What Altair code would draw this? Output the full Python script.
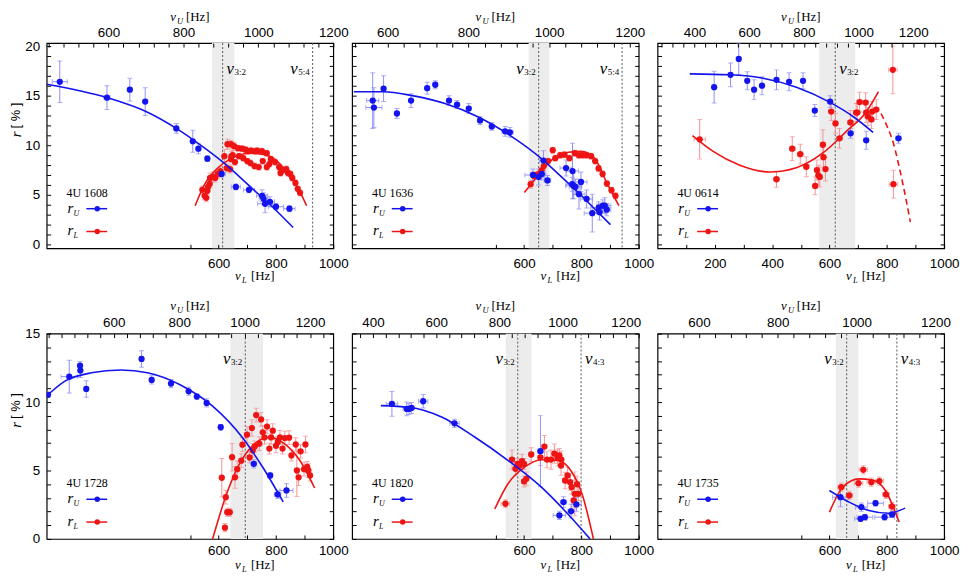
import altair as alt
import pandas as pd

W, H = 289, 207
BLUE, RED = "#1414ee", "#ee1414"
BLUE_ERR, RED_ERR = "#8f8ff5", "#f59191"
BAND = "#ececec"
SERIF, SANS = "Liberation Serif", "Liberation Sans"
ONE = pd.DataFrame({"k": [0]})

# ---------------------------------------------------------
# DATA
# ---------------------------------------------------------
# 4U 1608
s1608_u_nu = [470, 596, 657, 698, 781, 825, 840, 864, 902, 940, 975, 1010, 1014, 1018, 1031, 1047, 1083]
s1608_u_r = [16.4, 14.8, 15.6, 14.4, 11.7, 10.4, 9.65, 8.65, 7.1, 5.8, 5.5, 4.9, 4.6, 4.1, 4.3, 3.8, 3.6]
s1608_u_err = [2.1, 1.2, 1.15, 1.4, 0.5, 1.1, 0.5, 0.3, 0.3, 0.3, 0.3, 0.6, 0.6, 0.9, 0.5, 0.3, 0.3]
s1608_u_nuerr = [20, 8, 5, 5, 6, 5, 6, 6, 10, 12, 15, 15, 12, 20, 12, 20, 15]
s1608_l_nu = [543, 551, 557, 561, 563, 569, 570, 580, 588, 597, 606, 620, 628, 640, 645, 649, 631, 643, 654, 668,
              682, 694, 702, 713, 728, 734, 751, 768, 643, 657, 671, 686, 700, 711, 725, 740, 754, 768, 777, 782,
              797, 811, 816, 825, 836, 842, 850, 857, 868, 876, 884]
s1608_l_r = [5.5, 4.9, 4.7, 5.4, 5.8, 6.1, 6.7, 6.8, 6.7, 7.1, 7.4, 8.9, 7.7, 7.6, 8.9, 9.0, 10.1, 10.1, 9.9, 9.7,
             9.65, 9.55, 9.4, 9.45, 9.4, 9.45, 9.4, 9.2, 8.6, 8.3, 8.9, 8.7, 8.4, 8.2, 7.9, 7.8, 8.4, 7.8, 8.1, 8.6,
             8.3, 7.8, 7.2, 7.5, 7.6, 7.2, 7.1, 6.7, 6.2, 5.6, 5.2]
s1608_l_err = [0.4, 0.4, 0.4, 0.4, 0.4, 0.4, 0.5, 0.5, 0.4, 0.4, 0.4, 0.7, 0.4, 0.4, 0.5, 0.5, 0.5, 0.4, 0.4, 0.3,
               0.3, 0.3, 0.3, 0.3, 0.3, 0.3, 0.3, 0.3, 0.3, 0.3, 0.3, 0.3, 0.3, 0.3, 0.3, 0.3, 0.3, 0.3, 0.3, 0.3,
               0.3, 0.3, 0.3, 0.3, 0.3, 0.3, 0.3, 0.3, 0.3, 0.3, 0.3]
s1608_ufit_nu = [435, 596, 700, 781, 857, 918, 979, 1040, 1093]
s1608_ufit_r = [16.15, 14.8, 13.4, 11.7, 9.7, 7.9, 5.8, 3.7, 1.7]
s1608_lfit_nu = [518, 552, 597, 643, 711, 779, 836, 882, 907]
s1608_lfit_r = [3.9, 6.1, 7.7, 8.65, 9.2, 8.9, 7.4, 5.4, 3.9]

# 4U 1636
s1636_u_nu = [563, 566, 590, 623, 658, 698, 718, 752, 772, 801, 829, 858, 891, 903, 960, 974, 982, 986, 996, 1042,
              1058, 1057, 1061, 1065, 1079, 1074, 1093, 1107, 1123, 1125, 1133, 1138, 1143]
s1636_u_r = [14.5, 13.8, 15.7, 13.2, 14.5, 15.75, 16.1, 14.5, 14.1, 13.7, 12.5, 11.9, 11.4, 11.3, 7.0, 6.8, 7.1, 8.45,
             6.45, 7.7, 7.4, 6.07, 5.9, 5.8, 6.3, 5.07, 4.58, 3.15, 3.7, 3.25, 3.9, 3.9, 3.5]
s1636_u_err = [2.8, 2.0, 1.3, 0.5, 0.7, 0.6, 0.4, 0.5, 0.4, 0.5, 0.4, 0.4, 0.5, 0.5, 0.6, 0.8, 0.6, 1.0, 0.5, 0.8,
               2.8, 0.7, 1.3, 0.8, 1.0, 1.5, 0.9, 1.9, 0.6, 0.8, 0.6, 0.8, 0.6]
s1636_u_nuerr = [15, 20, 5, 5, 5, 5, 5, 5, 5, 5, 5, 5, 8, 8, 20, 15, 10, 10, 8, 15,
                 15, 15, 20, 15, 15, 15, 15, 20, 20, 15, 15, 15, 10]
s1636_l_nu = [623, 635, 643, 652, 661, 669, 684, 700, 709, 726, 741, 758, 777, 791, 803, 817, 834, 848, 860, 874,
              889, 905, 919]
s1636_l_r = [6.07, 6.9, 7.0, 7.1, 7.46, 7.9, 8.4, 9.5, 8.7, 9.0, 9.05, 8.7, 9.2, 9.0, 9.0, 9.0, 8.9, 8.4, 7.66, 7.1,
             6.14, 5.47, 4.9]
s1636_l_err = [0.4, 0.3, 0.3, 0.3, 0.3, 0.3, 0.3, 0.3, 0.3, 0.3, 0.3, 0.3, 0.3, 0.3, 0.3, 0.3, 0.3, 0.3, 0.3, 0.3,
               0.3, 0.3, 0.3]
s1636_ufit_nu = [516, 589, 661, 742, 822, 903, 984, 1024, 1072, 1121, 1152]
s1636_ufit_r = [15.4, 15.4, 15.0, 14.2, 12.9, 11.0, 8.55, 7.06, 5.24, 3.25, 2.0]
s1636_lfit_nu = [601, 652, 698, 755, 800, 845, 891, 931]
s1636_lfit_r = [5.24, 7.06, 8.55, 9.3, 9.38, 8.72, 6.07, 3.9]

# 4U 0614
s0614_u_nu = [472, 532, 562, 593, 618, 647, 700, 746, 797, 840, 896, 971, 1028, 1146]
s0614_u_r = [15.85, 17.1, 18.7, 16.5, 15.6, 16.0, 16.6, 16.4, 16.5, 13.5, 14.4, 11.2, 10.5, 10.7]
s0614_u_err = [1.6, 1.2, 1.6, 0.9, 1.0, 0.9, 1.0, 0.9, 0.8, 0.6, 0.6, 0.5, 0.9, 0.5]
s0614_u_nuerr = [5, 5, 5, 5, 5, 5, 5, 5, 5, 8, 8, 8, 8, 10]
s0614_l_nu = [147, 415, 470, 498, 519, 556, 561, 566, 550, 577, 579, 586, 606, 621, 635, 673, 693, 697, 705, 726,
              728, 734, 746, 749, 763, 821, 823]
s0614_l_r = [10.6, 6.57, 9.65, 9.1, 7.83, 7.5, 6.97, 6.8, 5.9, 10.05, 8.8, 7.6, 13.4, 12.2, 10.7, 12.3, 13.3, 13.3,
             14.35, 14.3, 13.3, 12.9, 12.6, 13.4, 13.6, 17.6, 6.07]
s0614_l_err = [2.0, 0.8, 1.2, 1.0, 1.0, 1.0, 1.0, 1.0, 0.9, 1.5, 1.4, 1.2, 0.9, 1.0, 1.0, 1.2, 0.9, 0.9, 1.0, 1.0,
               1.0, 0.9, 0.9, 1.0, 1.0, 2.4, 1.4]
s0614_l_nuerr = [20, 10, 10, 10, 10, 8, 8, 8, 8, 8, 8, 8, 8, 8, 10, 10, 10, 10, 10, 10,
                 10, 10, 10, 10, 10, 15, 15]
s0614_ufit_nu = [383, 529, 651, 773, 894, 980, 1053]
s0614_ufit_r = [17.2, 17.1, 16.75, 15.85, 14.35, 12.9, 11.3]
s0614_lfit_nu = [122, 194, 287, 391, 484, 577, 658, 728, 771]
s0614_lfit_r = [10.97, 9.38, 7.99, 7.3, 7.73, 9.22, 11.37, 13.36, 15.4]
s0614_ldash_nu = [780, 804, 821, 844, 868, 882]
s0614_ldash_r = [13.2, 11.7, 10.4, 7.7, 4.4, 2.26]

# 4U 1728
s1728_u_nu = [399, 464, 497, 498, 516, 685, 716, 775, 829, 854, 884, 927, 1028, 1078, 1101, 1128]
s1728_u_r = [10.53, 11.86, 12.66, 12.3, 10.96, 13.15, 11.62, 11.35, 10.79, 10.4, 9.94, 8.16, 5.49, 4.64, 3.25, 3.54]
s1728_u_err = [0.2, 1.2, 0.3, 0.5, 0.6, 0.6, 0.3, 0.3, 0.3, 0.2, 0.3, 0.2, 0.3, 0.2, 0.3, 0.5]
s1728_u_nuerr = [4, 25, 5, 5, 5, 6, 5, 5, 5, 5, 5, 5, 8, 8, 10, 20]
s1728_l_nu = [611, 625, 622, 630, 639, 647, 657, 665, 679, 683, 699, 708, 716, 719, 726, 731, 742, 748, 754, 760,
              769, 777, 783, 789, 806, 800, 814, 823, 831, 846, 854, 869, 873, 879, 886, 898, 903, 909, 913, 919]
s1728_l_r = [4.47, 3.05, 0.82, 1.95, 1.95, 5.97, 4.5, 5.1, 5.72, 6.89, 7.62, 5.95, 8.1, 6.47, 6.75, 9.05, 6.96, 8.73,
             7.79, 7.42, 8.21, 6.6, 7.42, 7.91, 7.07, 6.8, 7.42, 6.6, 7.37, 7.4, 6.1, 6.9, 5.0, 4.5, 6.4, 5.1, 6.9,
             5.26, 5.0, 4.64]
s1728_l_err = [1.4, 0.5, 0.3, 0.3, 0.3, 1.0, 0.8, 0.6, 0.5, 0.5, 0.6, 0.4, 0.6, 0.5, 0.4, 0.5, 0.5, 0.5, 0.5, 0.5,
               0.5, 0.4, 0.5, 0.5, 0.4, 0.5, 0.5, 0.4, 0.5, 0.5, 0.4, 0.5, 1.9, 0.6, 0.5, 0.5, 0.6, 0.4, 0.5, 0.4]
s1728_ufit_nu = [394, 451, 532, 622, 703, 804, 904, 995, 1054, 1118]
s1728_ufit_r = [10.43, 11.53, 12.14, 12.34, 12.14, 11.25, 9.67, 7.36, 5.29, 2.7]
s1728_lfit_nu = [579, 628, 673, 719, 777, 823, 880, 935]
s1728_lfit_r = [0.0, 3.3, 5.49, 6.82, 7.42, 7.06, 5.84, 3.72]

# 4U 1820
s1820_u_nu = [460, 507, 514, 522, 559, 658, 930, 1003, 990, 1027, 1044]
s1820_u_r = [9.87, 9.5, 9.5, 9.57, 10.06, 8.45, 6.41, 2.69, 1.72, 2.03, 2.52]
s1820_u_err = [0.9, 0.5, 0.4, 0.4, 0.5, 0.3, 2.6, 0.4, 0.3, 0.5, 0.5]
s1820_u_nuerr = [18, 12, 8, 8, 15, 15, 8, 10, 20, 10, 15]
s1820_l_nu = [535, 558, 570, 577, 585, 593, 600, 608, 600, 625, 657, 671, 680, 694, 706, 717, 729, 723, 730, 743,
              752, 761, 766, 773, 777, 785, 789]
s1820_l_r = [2.57, 5.8, 5.12, 5.48, 5.36, 5.68, 5.48, 4.39, 4.2, 6.17, 5.96, 6.75, 5.8, 5.8, 6.23, 5.92, 5.36, 6.1,
             5.8, 4.27, 4.64, 4.15, 3.78, 2.81, 3.3, 4.0, 3.3]
s1820_l_err = [0.3, 0.7, 0.5, 0.4, 0.4, 0.5, 0.4, 0.5, 0.4, 0.5, 0.6, 0.8, 0.6, 0.7, 0.7, 0.6, 0.7, 0.5, 0.6, 0.6,
               0.6, 0.6, 0.5, 0.5, 1.6, 0.6, 0.5]
s1820_l_nuerr = [15, 8, 8, 8, 8, 8, 8, 8, 8, 8, 8, 8, 8, 8, 8, 8, 8, 8, 8, 8,
                 8, 8, 8, 8, 8, 8, 8]
s1820_ufit_nu = [425, 514, 619, 723, 828, 933, 1016, 1087]
s1820_ufit_r = [9.74, 9.62, 8.89, 7.43, 5.73, 3.78, 1.84, 0.0]
s1820_lfit_nu = [498, 544, 602, 660, 717, 763, 804, 842]
s1820_lfit_r = [2.2, 4.03, 5.24, 5.78, 5.73, 5.0, 3.18, 0.0]

# 4U 1735
s1735_u_nu = [959, 1012, 1010, 1021, 1048, 1071, 1090]
s1735_u_r = [3.05, 2.32, 1.47, 1.59, 2.61, 1.59, 1.79]
s1735_u_err = [0.7, 0.3, 0.2, 0.2, 0.2, 0.2, 0.2]
s1735_u_nuerr = [20, 15, 15, 20, 20, 25, 15]
s1735_l_nu = [641, 669, 701, 718, 746, 774, 797, 818]
s1735_l_r = [3.78, 3.18, 4.07, 5.05, 4.15, 4.23, 3.25, 2.37]
s1735_l_err = [0.3, 0.3, 0.3, 0.3, 0.3, 0.3, 0.3, 0.3]
s1735_l_nuerr = [12, 12, 15, 15, 15, 15, 12, 12]
s1735_ufit_nu = [931, 981, 1031, 1081, 1123]
s1735_ufit_r = [3.54, 2.69, 2.08, 1.88, 2.25]
s1735_lfit_nu = [600, 646, 703, 749, 795, 843]
s1735_lfit_r = [1.96, 3.78, 4.39, 4.3, 3.54, 1.23]

PANELS = [
    dict(name="4U 1608", row=0, udom=[435, 1200], umin=600, band=[577, 655],
         lines=[(614, "3:2", "right"), (928, "5:4", "left")],
         u=(s1608_u_nu, s1608_u_r, s1608_u_err, s1608_u_nuerr), l=(s1608_l_nu, s1608_l_r, s1608_l_err, None),
         ufit=(s1608_ufit_nu, s1608_ufit_r), lfit=(s1608_lfit_nu, s1608_lfit_r)),
    dict(name="4U 1636", row=0, udom=[512, 1222], umin=600, band=[616, 688],
         lines=[(651, "3:2", "left"), (942, "5:4", "left")],
         u=(s1636_u_nu, s1636_u_r, s1636_u_err, s1636_u_nuerr), l=(s1636_l_nu, s1636_l_r, s1636_l_err, None),
         ufit=(s1636_ufit_nu, s1636_ufit_r), lfit=(s1636_lfit_nu, s1636_lfit_r)),
    dict(name="4U 0614", row=0, udom=[265, 1313], umin=400, band=[564, 690],
         lines=[(620, "3:2", "right")],
         u=(s0614_u_nu, s0614_u_r, s0614_u_err, s0614_u_nuerr), l=(s0614_l_nu, s0614_l_r, s0614_l_err, s0614_l_nuerr),
         ufit=(s0614_ufit_nu, s0614_ufit_r), lfit=(s0614_lfit_nu, s0614_lfit_r),
         ldash=(s0614_ldash_nu, s0614_ldash_r)),
    dict(name="4U 1728", row=1, udom=[395, 1271], umin=600, band=[641, 755],
         lines=[(693, "3:2", "left")],
         u=(s1728_u_nu, s1728_u_r, s1728_u_err, s1728_u_nuerr), l=(s1728_l_nu, s1728_l_r, s1728_l_err, None),
         ufit=(s1728_ufit_nu, s1728_ufit_r), lfit=(s1728_lfit_nu, s1728_lfit_r)),
    dict(name="4U 1820", row=1, udom=[334, 1241], umin=400, band=[536, 626],
         lines=[(578, "3:2", "left"), (799, "4:3", "right")],
         u=(s1820_u_nu, s1820_u_r, s1820_u_err, s1820_u_nuerr), l=(s1820_l_nu, s1820_l_r, s1820_l_err, s1820_l_nuerr),
         ufit=(s1820_ufit_nu, s1820_ufit_r), lfit=(s1820_lfit_nu, s1820_lfit_r)),
    dict(name="4U 1735", row=1, udom=[495, 1222], umin=600, band=[622, 701],
         lines=[(660, "3:2", "left"), (835, "4:3", "right")],
         u=(s1735_u_nu, s1735_u_r, s1735_u_err, s1735_u_nuerr), l=(s1735_l_nu, s1735_l_r, s1735_l_err, s1735_l_nuerr),
         ufit=(s1735_ufit_nu, s1735_ufit_r), lfit=(s1735_lfit_nu, s1735_lfit_r)),
]


# ---------------------------------------------------------
# HELPERS
# ---------------------------------------------------------
def make_axis(orient, values, labels=True, expr="", pad=6):
    kw = dict(orient=orient, values=values, labels=labels, tickSize=4, offset=-4, tickColor="black",
              tickWidth=1, domain=False, grid=False, title=None, zindex=1)
    if labels:
        kw.update(labelExpr=expr, labelPadding=pad, labelFont=SANS, labelFontSize=13.5, labelColor="black",
                  labelFlush=False, labelOverlap=False, format="d")
    return alt.Axis(**kw)


def vtext(txt, x, y, size, style="normal", font=SERIF, align="left", angle=0, baseline="alphabetic"):
    mk = dict(text=txt, font=font, fontSize=size, fontStyle=style, align=align, baseline=baseline, color="black")
    if angle:
        mk["angle"] = angle
    return alt.Chart(ONE).mark_text(**mk).encode(x=alt.value(x), y=alt.value(y))


def nu_title(sub, cx, y):
    return [vtext("ν", cx - 20, y, 13, "italic"),
            vtext(sub, cx - 13, y + 3, 8.5, "italic"),
            vtext("[Hz]", cx - 4, y, 13)]


def series(vals, xs, ys, color, ecolor, xaxis, yaxis):
    nu, r, err, nuerr = vals
    df = pd.DataFrame({"nu": nu, "r": r, "err": err})
    df["lo"] = df["r"] - df["err"]
    df["hi"] = df["r"] + df["err"]

    def X(f, axis=None):
        return alt.X(f, type="quantitative", scale=xs, axis=axis)

    def Y(f, axis=None):
        return alt.Y(f, type="quantitative", scale=ys, axis=axis)

    errs = [alt.Chart(df).mark_rule(color=ecolor, strokeWidth=1, clip=True)
            .encode(x=X("nu"), y=Y("lo"), y2=alt.Y2("hi"))]
    ycaps = pd.concat([pd.DataFrame({"nu": df["nu"], "v": df["lo"]}),
                       pd.DataFrame({"nu": df["nu"], "v": df["hi"]})])
    errs.append(alt.Chart(ycaps).mark_tick(orient="horizontal", size=5, thickness=1, color=ecolor, clip=True)
                .encode(x=X("nu"), y=Y("v")))
    if nuerr is not None:
        df["nlo"] = df["nu"] - pd.Series(nuerr)
        df["nhi"] = df["nu"] + pd.Series(nuerr)
        errs.append(alt.Chart(df).mark_rule(color=ecolor, strokeWidth=1, clip=True)
                    .encode(x=X("nlo"), x2=alt.X2("nhi"), y=Y("r")))
        xcaps = pd.concat([pd.DataFrame({"v": df["nlo"], "r": df["r"]}),
                           pd.DataFrame({"v": df["nhi"], "r": df["r"]})])
        errs.append(alt.Chart(xcaps).mark_tick(orient="vertical", size=5, thickness=1, color=ecolor, clip=True)
                    .encode(x=X("v"), y=Y("r")))
    pts = (alt.Chart(df).mark_circle(size=40, color=color, opacity=1, clip=True)
           .encode(x=X("nu", xaxis), y=Y("r", yaxis)))
    return errs, pts


def fit_line(nu, r, xs, ys, color, dash=None):
    df = pd.DataFrame({"nu": nu, "r": r})
    mk = dict(color=color, strokeWidth=1.6, interpolate="monotone", clip=True)
    if dash:
        mk["strokeDash"] = dash
    return alt.Chart(df).mark_line(**mk).encode(
        x=alt.X("nu", type="quantitative", scale=xs, axis=None),
        y=alt.Y("r", type="quantitative", scale=ys, axis=None))


def line_labels(nu, sub, side, xs):
    d = pd.DataFrame({"nu": [nu]})
    x = alt.X("nu", type="quantitative", scale=xs, axis=None)
    if side == "right":
        a, b = dict(align="left", dx=4), dict(align="left", dx=12)
    else:
        a, b = dict(align="right", dx=-15), dict(align="right", dx=-3)
    return [alt.Chart(d).mark_text(text="ν", font=SERIF, fontSize=17, fontStyle="italic", color="black", **a)
            .encode(x=x, y=alt.value(26)),
            alt.Chart(d).mark_text(text=sub, font=SERIF, fontSize=9, color="black", **b)
            .encode(x=x, y=alt.value(29))]


def legend(name):
    out = [vtext(name, 20, 155, 12)]
    for sub, yy, color in (("U", 167, BLUE), ("L", 190, RED)):
        out.append(vtext("r", 21, yy + 4, 15, "italic"))
        out.append(vtext(sub, 27, yy + 7, 8, "italic"))
        out.append(alt.Chart(ONE).mark_rule(color=color, strokeWidth=1.5)
                   .encode(x=alt.value(40), x2=alt.value(61), y=alt.value(yy)))
        out.append(alt.Chart(ONE).mark_circle(color=color, size=30, opacity=1)
                   .encode(x=alt.value(51), y=alt.value(yy)))
    return out


# ---------------------------------------------------------
# PANEL
# ---------------------------------------------------------
def panel(p, col):
    row = p["row"]
    ydom = [-0.4, 20.3] if row == 0 else [0, 15]
    yvals = list(range(0, 21)) if row == 0 else list(range(0, 16))
    xs_l = alt.Scale(domain=[0, 1000], nice=False, zero=False)
    xs_u = alt.Scale(domain=p["udom"], nice=False, zero=False)
    ys = alt.Scale(domain=ydom, nice=False, zero=False)

    lvals = list(range(100, 1001, 100)) if p["umin"] == 400 and row == 0 else [500, 600, 700, 800, 900, 1000]
    uvals = [v for v in range(200, 1400, 40) if p["udom"][0] <= v <= p["udom"][1]]
    bot_pad, top_pad = (8, 4) if row == 0 else (5, 4)

    top_expr = "datum.value % 200 === 0 && datum.value >= " + str(p["umin"]) + " ? datum.label : ''"
    ax_bottom = make_axis("bottom", lvals, True, "datum.value % 200 === 0 ? datum.label : ''", bot_pad)
    ax_top = make_axis("top", uvals, True, top_expr, top_pad)
    ax_left = make_axis("left", yvals, col == 0, "datum.value % 5 === 0 ? datum.label : ''", 7)
    ax_right = make_axis("right", yvals, False)

    band = pd.DataFrame({"a": [p["band"][0]], "b": [p["band"][1]]})
    layers = [alt.Chart(band).mark_rect(color=BAND).encode(
        x=alt.X("a", type="quantitative", scale=xs_l, axis=None), x2=alt.X2("b"),
        y=alt.value(0), y2=alt.value(H))]
    lines = pd.DataFrame({"nu": [ln[0] for ln in p["lines"]]})
    layers.append(alt.Chart(lines).mark_rule(color="#555555", strokeWidth=1, strokeDash=[2, 2]).encode(
        x=alt.X("nu", type="quantitative", scale=xs_l, axis=None), y=alt.value(0), y2=alt.value(H)))
    for nu, sub, side in p["lines"]:
        layers += line_labels(nu, sub, side, xs_l)

    l_errs, l_pts = series(p["l"], xs_l, ys, RED, RED_ERR, ax_bottom, ax_left)
    u_errs, u_pts = series(p["u"], xs_u, ys, BLUE, BLUE_ERR, ax_top, ax_right)
    layers += l_errs + u_errs
    layers.append(fit_line(*p["lfit"], xs_l, ys, RED))
    if "ldash" in p:
        layers.append(fit_line(*p["ldash"], xs_l, ys, RED, dash=[6, 4]))
    layers.append(l_pts)
    layers.append(fit_line(*p["ufit"], xs_u, ys, BLUE))
    layers.append(u_pts)

    layers += legend(p["name"])
    layers += nu_title("U", W / 2, -22 if row == 0 else -24)
    layers += nu_title("L", 210, H + (32 if row == 0 else 30))
    if col == 0:
        layers.append(vtext("r", -31, 95, 15, "italic", angle=270, baseline="middle"))
        layers.append(vtext("[ % ]", -31, 86, 13, font=SANS, angle=270, baseline="middle"))

    return (alt.layer(*layers)
            .resolve_scale(x="independent", y="independent")
            .properties(width=W, height=H))


charts = [panel(p, i % 3) for i, p in enumerate(PANELS)]

chart = (
    alt.concat(*charts, columns=3, spacing={"row": 86, "column": 19}, bounds="flush")
    .properties(padding=0)
    .configure_view(stroke="black", strokeWidth=1.2)
)

chart.save("out.html", embed_options={"renderer": "svg", "actions": False})
